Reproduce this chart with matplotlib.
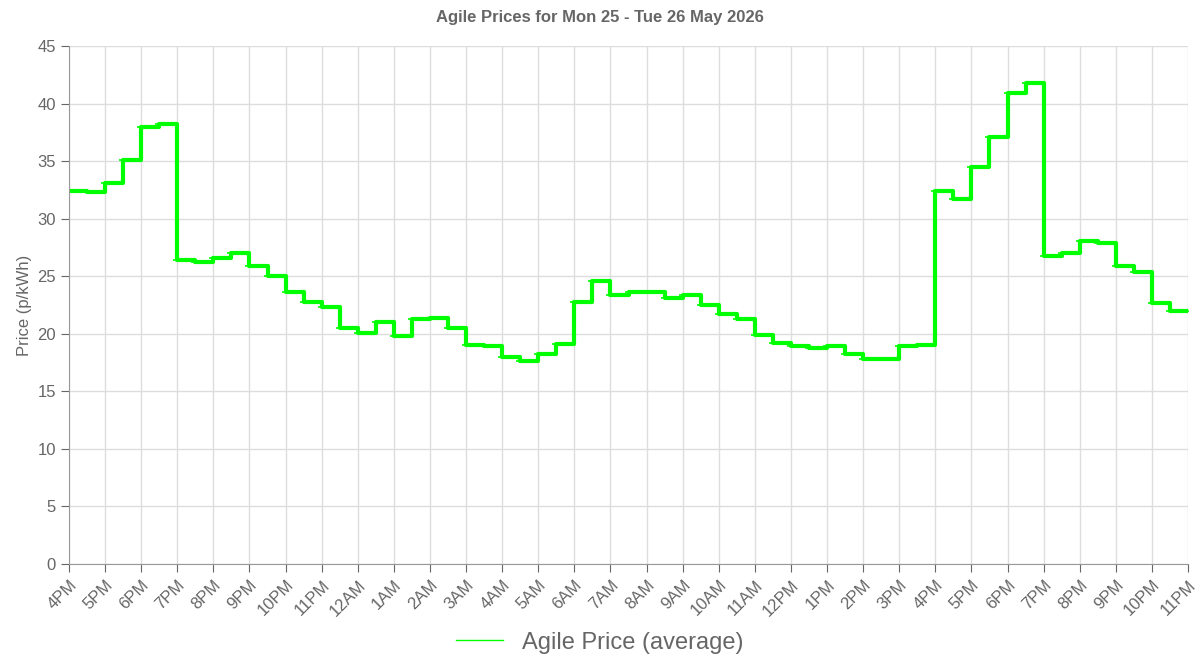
import matplotlib
matplotlib.use("Agg")
import matplotlib.pyplot as plt
import numpy as np

plt.rcParams['font.family'] = ['Liberation Sans', 'DejaVu Sans']

# Half-hourly prices, 4PM Mon -> 11PM Tue
prices = [32.4, 32.3, 33.1, 35.1, 38.0, 38.2, 26.4, 26.2, 26.6, 27.0, 25.9, 25.0,
          23.6, 22.8, 22.3, 20.5, 20.1, 21.0, 19.8, 21.3, 21.4, 20.5, 19.0, 18.9,
          18.0, 17.6, 18.2, 19.1, 22.8, 24.6, 23.4, 23.6, 23.6, 23.1, 23.4, 22.5,
          21.7, 21.3, 19.9, 19.2, 18.9, 18.8, 18.9, 18.2, 17.8, 17.8, 18.9, 19.0,
          32.4, 31.7, 34.5, 37.1, 40.9, 41.8, 26.8, 27.0, 28.1, 27.9, 25.9, 25.4,
          22.7, 22.0, 22.0]
hour_labels = ['4PM', '5PM', '6PM', '7PM', '8PM', '9PM', '10PM', '11PM', '12AM',
               '1AM', '2AM', '3AM', '4AM', '5AM', '6AM', '7AM', '8AM', '9AM', '10AM',
               '11AM', '12PM', '1PM', '2PM', '3PM', '4PM', '5PM', '6PM', '7PM', '8PM',
               '9PM', '10PM', '11PM']

x = np.arange(len(prices)) * 0.5
grey = '#666666'

fig = plt.figure(figsize=(12, 6.67), dpi=100)
ax = fig.add_axes([69/1200, 1-564/667, (1188-69)/1200, (564-46)/667])
ax.step(x, prices, where='post', color='#00ff00', lw=3, label='Agile Price (average)')
ax.plot(x, prices, ls='none', marker='_', ms=6, mew=1.2, color='#00ff00')

ax.set_xlim(0, x[-1])
ax.set_ylim(0, 45)
ax.set_yticks(range(0, 46, 5))
ax.set_xticks(np.arange(len(hour_labels)))
ax.set_xticklabels(hour_labels, rotation=45, ha='right', rotation_mode='anchor')
ax.tick_params(colors=grey, labelsize=12, length=6)
ax.grid(True, color='#dddddd', lw=1)
ax.set_axisbelow(True)
for s in ['top', 'right']:
    ax.spines[s].set_visible(False)
for s in ['left', 'bottom']:
    ax.spines[s].set_color('#999999')
ax.set_ylabel('Price (p/kWh)', color=grey, fontsize=12)
fig.suptitle('Agile Prices for Mon 25 - Tue 26 May 2026', y=0.985, fontsize=12,
             fontweight='bold', color=grey)
leg = fig.legend(*ax.get_legend_handles_labels(), loc='lower center',
                 bbox_to_anchor=(0.5, -0.012), frameon=False, fontsize=17,
                 handlelength=2.0, labelcolor=grey)
for h in leg.get_lines():
    h.set_linewidth(1)

fig.savefig('out.png', dpi=100)
